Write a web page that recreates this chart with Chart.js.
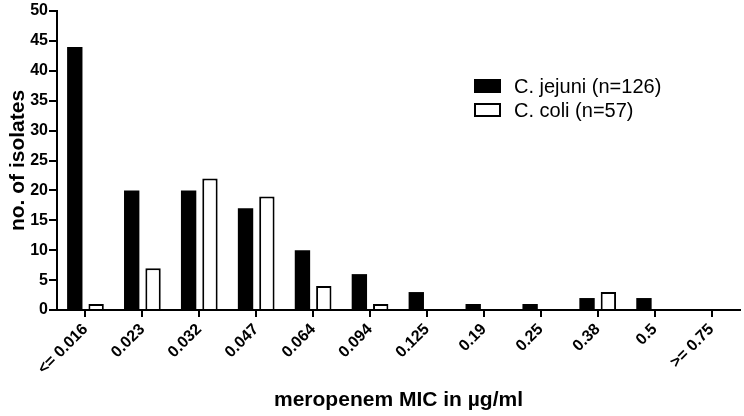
<!DOCTYPE html>
<html>
<head>
<meta charset="utf-8">
<script src="https://cdn.jsdelivr.net/npm/chart.js@4.4.0/dist/chart.umd.min.js"></script>
<style>
  html, body { margin: 0; padding: 0; background: #fff; }
  #wrap { width: 744px; height: 416px; }
</style>
</head>
<body>
<div id="wrap"><canvas id="micChart"></canvas></div>
<script>
// MIC categories (µg/ml)
const micLabels = ['<= 0.016', '0.023', '0.032', '0.047', '0.064', '0.094', '0.125', '0.19', '0.25', '0.38', '0.5', '>= 0.75'];
// number of isolates per MIC
const jejuniCounts = [44, 20, 20, 17, 10, 6, 3, 1, 1, 2, 2, 0];
const coliCounts = [1, 7, 22, 19, 4, 1, 0, 0, 0, 3, 0, 0];
const yTicks = [0, 5, 10, 15, 20, 25, 30, 35, 40, 45, 50];

const fontFam = '"Liberation Sans", Arial, sans-serif';

// legend drawn inside the plot, like the original figure
const boxLegend = {
    id: 'boxLegend',
    afterDraw(chart) {
        const ctx = chart.ctx;
        ctx.save();
        ctx.font = '20px ' + fontFam;
        ctx.textBaseline = 'middle';
        chart.data.datasets.forEach((ds, i) => {
            const y = 86 + i * 24;
            ctx.fillStyle = ds.backgroundColor;
            ctx.strokeStyle = '#000';
            ctx.lineWidth = 2;
            ctx.fillRect(475, y - 6, 25, 12);
            ctx.strokeRect(475, y - 6, 25, 12);
            ctx.fillStyle = '#000';
            ctx.fillText(ds.label, 514, y + 1);
        });
        ctx.restore();
    }
};

new Chart(document.getElementById('micChart'), {
    type: 'bar',
    data: {
        labels: micLabels,
        datasets: [
            {
                label: 'C. jejuni (n=126)',
                data: jejuniCounts,
                backgroundColor: '#000',
                borderColor: '#000',
                borderWidth: 0,
                categoryPercentage: 0.75,
                barPercentage: 0.72
            },
            {
                label: 'C. coli (n=57)',
                data: coliCounts,
                backgroundColor: '#fff',
                borderColor: '#000',
                borderWidth: 2,
                borderSkipped: 'bottom',
                categoryPercentage: 0.75,
                barPercentage: 0.72
            }
        ]
    },
    options: {
        responsive: true,
        maintainAspectRatio: false,
        animation: false,
        layout: { padding: { top: 11, right: 4, bottom: 0, left: 0 } },
        plugins: {
            legend: { display: false },
            tooltip: { enabled: false }
        },
        scales: {
            x: {
                grid: {
                    offset: false,
                    drawOnChartArea: false,
                    drawTicks: true,
                    tickLength: 7,
                    color: '#000',
                    lineWidth: 2
                },
                border: { color: '#000', width: 2 },
                ticks: {
                    color: '#000',
                    minRotation: 45,
                    maxRotation: 45,
                    padding: 3,
                    font: { family: fontFam, size: 16, weight: 'bold' }
                },
                title: {
                    display: true,
                    text: 'meropenem MIC in µg/ml',
                    color: '#000',
                    padding: { top: 4, bottom: 3 },
                    font: { family: fontFam, size: 21, weight: 'bold' }
                },
                afterFit: s => { s.height = 106; }
            },
            y: {
                min: 0,
                max: 50,
                afterBuildTicks: s => { s.ticks = yTicks.map(v => ({ value: v })); },
                grid: {
                    drawOnChartArea: false,
                    drawTicks: true,
                    tickLength: 8,
                    color: '#000',
                    lineWidth: 2
                },
                border: { color: '#000', width: 2 },
                ticks: {
                    color: '#000',
                    padding: 1,
                    font: { family: fontFam, size: 16, weight: 'bold' }
                },
                title: {
                    display: true,
                    text: 'no. of isolates',
                    color: '#000',
                    padding: { top: 6, bottom: 2 },
                    font: { family: fontFam, size: 21, weight: 'bold' }
                },
                afterFit: s => { s.width = 57; }
            }
        }
    },
    plugins: [boxLegend]
});
</script>
</body>
</html>
